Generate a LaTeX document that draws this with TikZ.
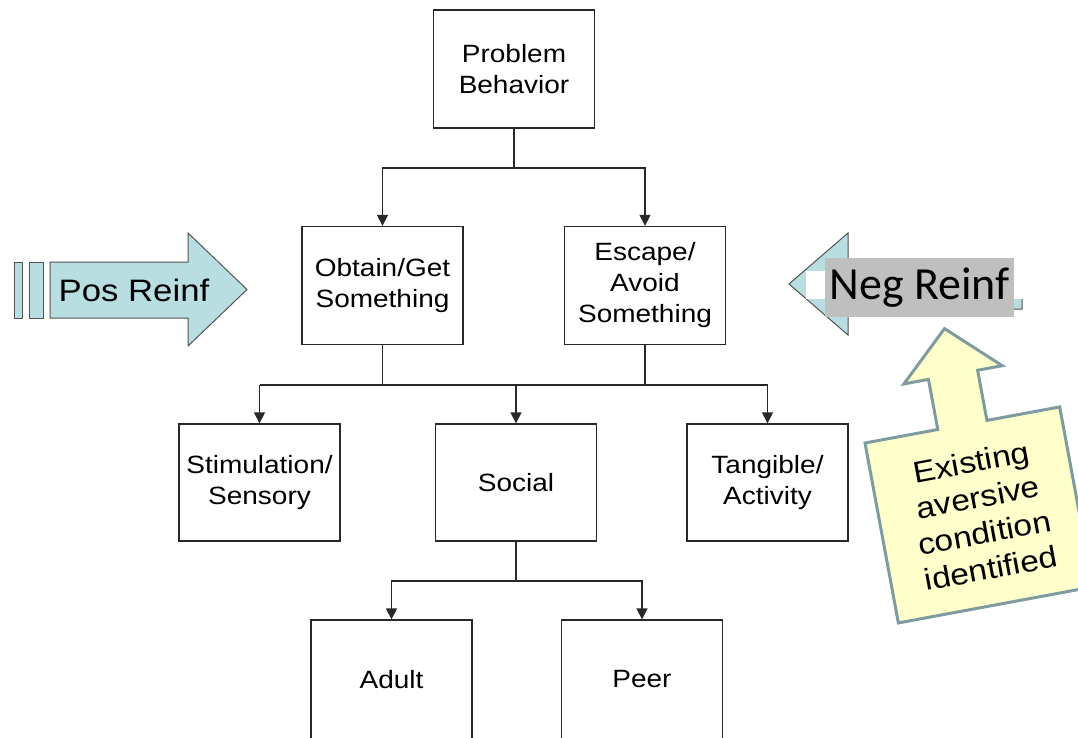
\documentclass[tikz,border=0pt]{standalone}
\usepackage{fontspec}
\setmainfont[FakeStretch=1.12]{Liberation Sans}
\newfontfamily\carlito{Carlito}
\usetikzlibrary{arrows.meta}
\definecolor{arrowblue}{RGB}{184,222,226}
\definecolor{notefill}{RGB}{255,255,204}
\definecolor{noteedge}{RGB}{126,156,160}
\definecolor{hlgray}{RGB}{191,191,191}
\definecolor{linegray}{RGB}{40,40,40}
\tikzset{
  box/.style={draw=linegray, line width=1.3pt, fill=white, minimum width=161pt,
    minimum height=118pt, inner sep=0pt, align=center,
    font=\fontsize{25}{31}\selectfont},
  conn/.style={draw=linegray, line width=1.3pt},
  arr/.style={conn, -{Triangle[length=11pt,width=11pt]}},
  blockarrow/.style={draw=linegray!80, line width=1pt, fill=arrowblue, line join=miter},
}
\begin{document}
\begin{tikzpicture}[x=1pt,y=-1pt]
\useasboundingbox (0,0) rectangle (1078,738);
\clip (0,0) rectangle (1078,738);
\fill[white] (0,0) rectangle (1078,738);

% boxes
\node[box] (prob) at (514,69) {Problem\\Behavior};
\node[box] (obt) at (382.5,285.5) {Obtain/Get\\Something};
\node[box] (esc) at (645,285.5) {Escape/\\Avoid\\Something};
\node[box, minimum height=117pt] (stim) at (259.5,482.5) {Stimulation/\\Sensory};
\node[box, minimum height=117pt] (soc) at (516,482.5) {Social};
\node[box, minimum height=117pt] (tang) at (767.5,482.5) {Tangible/\\Activity};
\node[box, minimum height=122pt] (adult) at (391.5,681) {\raisebox{4pt}{Adult}};
\node[box, minimum height=122pt] (peer) at (642,681) {\raisebox{4pt}{Peer}};

% connectors level 1
\coordinate (j1) at (514,168);
\draw[conn] (prob.south) -- (j1);
\draw[arr] (j1) -| (obt.north);
\draw[arr] (j1) -| (esc.north);

% connectors level 2
\coordinate (j2) at (516,385);
\draw[conn] (obt.south) -- (obt.south |- j2);
\draw[conn] (esc.south) -- (esc.south |- j2);
\draw[conn] (stim.north |- j2) -- (tang.north |- j2);
\draw[arr] (stim.north |- j2) -- (stim.north);
\draw[arr] (soc.north |- j2) -- (soc.north);
\draw[arr] (tang.north |- j2) -- (tang.north);

% connectors level 3
\coordinate (j3) at (516,581);
\draw[conn] (soc.south) -- (j3);
\draw[arr] (j3) -| (adult.north);
\draw[arr] (j3) -| (peer.north);

% Pos Reinf striped arrow
\draw[blockarrow] (14,262) rectangle (22,318);
\draw[blockarrow] (29,262) rectangle (43,318);
\draw[blockarrow] (50,262) -- (188,262) -- (188,233) -- (247,289.5) -- (188,346)
  -- (188,318) -- (50,318) -- cycle;
\node[font=\fontsize{31}{36}\selectfont, inner sep=0pt] (posT) at (134,290) {Pos Reinf};

% Neg Reinf arrow (partly hidden)
\draw[blockarrow] (1022,259) -- (848,259) -- (848,233) -- (789,284) -- (848,335)
  -- (848,309) -- (1022,309) -- cycle;
\fill[white] (806,271) rectangle (1024.5,299);
\fill[white] (1014,250) rectangle (1024.5,299);
\fill[hlgray] (825,258) rectangle (1014,317);
\node[font=\carlito\fontsize{46}{50}\selectfont, inner sep=0pt] (negT) at (919.5,288) {Neg Reinf};

% callout
\begin{scope}[shift={(865,443)}, rotate=10.5]
  \draw[draw=noteedge, line width=3pt, fill=notefill, line join=miter]
    (0,0) -- (74,0) -- (74,-51) -- (49,-51) -- (99,-98) -- (149,-51) -- (124,-51)
    -- (124,0) -- (198,0) -- (198,183) -- (0,183) -- cycle;
  \node[rotate=10.5, align=center, inner sep=0pt,
    font=\fontsize{30}{36}\selectfont] (callT) at (101,92)
    {Existing\\aversive\\condition\\identified};
\end{scope}
\end{tikzpicture}
\end{document}
